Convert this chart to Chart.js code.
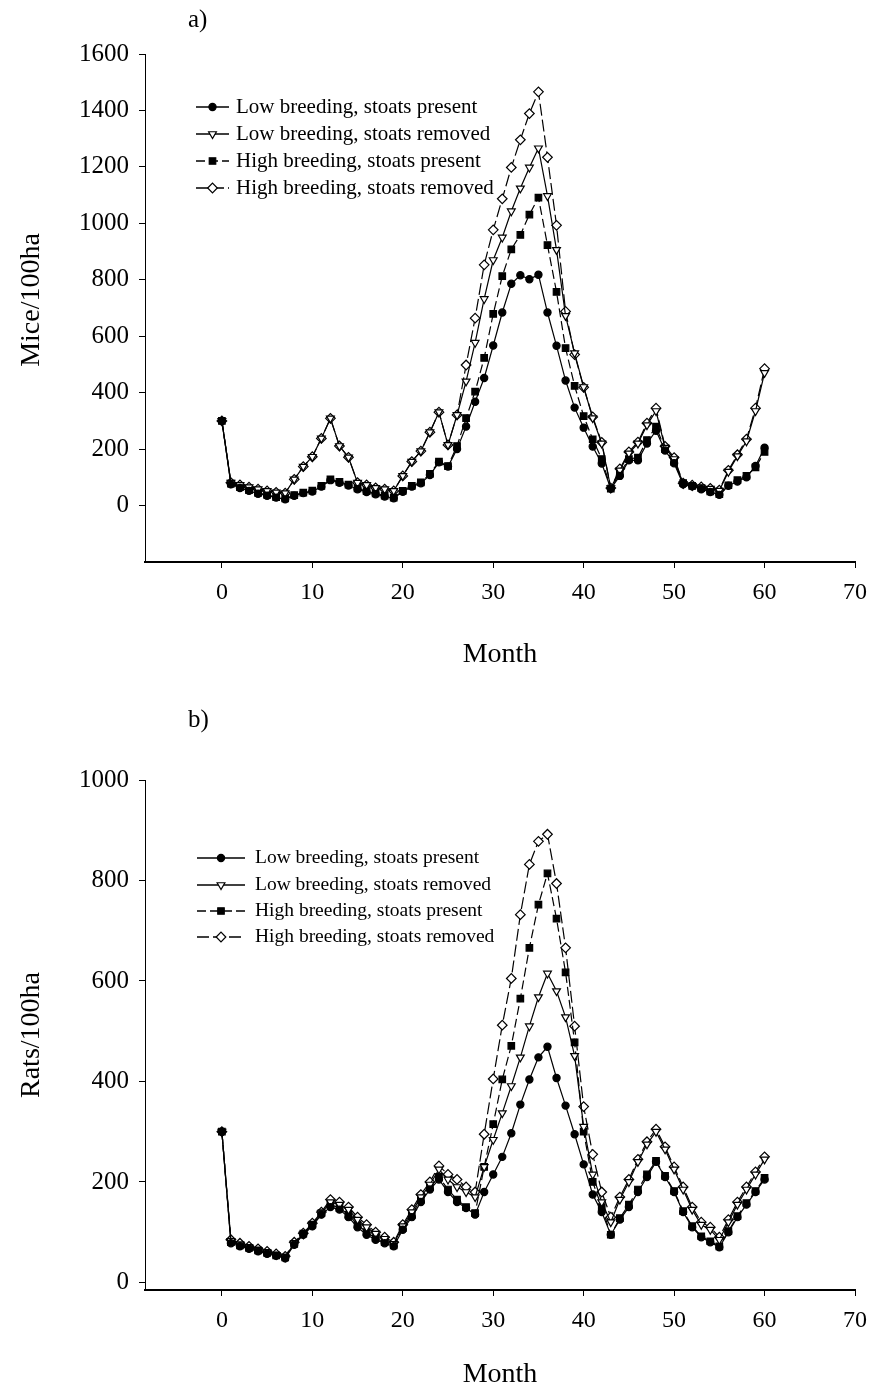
<!DOCTYPE html>
<html>
<head>
<meta charset="utf-8">
<script src="https://cdn.jsdelivr.net/npm/chart.js@4.4.1/dist/chart.umd.min.js"></script>
<style>
  body { margin: 0; background: #fff; }
  canvas { display: block; }
</style>
</head>
<body>
<canvas id="mice" width="877" height="680"></canvas>
<canvas id="rats" width="877" height="712"></canvas>
<script>
const months = [0,1,2,3,4,5,6,7,8,9,10,11,12,13,14,15,16,17,18,19,20,21,22,23,24,25,26,27,28,29,30,
  31,32,33,34,35,36,37,38,39,40,41,42,43,44,45,46,47,48,49,50,51,52,53,54,55,56,57,58,59,60];
const xTicks = [0,10,20,30,40,50,60,70];
const miceTicks = [0,200,400,600,800,1000,1200,1400,1600];
const ratTicks = [0,200,400,600,800,1000];

const seriesNames = [
  "Low breeding, stoats present",
  "Low breeding, stoats removed",
  "High breeding, stoats present",
  "High breeding, stoats removed"
];

// mice per 100ha, read off panel a)
const miceLowPresent = [300,75,62,52,42,35,28,22,35,44,50,67,90,81,71,58,48,40,32,26,49,67,79,108,153,138,
  200,280,368,452,567,684,786,816,802,818,684,566,443,347,276,209,149,60,
  105,160,160,220,265,195,150,75,68,58,48,38,70,85,100,140,205];
const miceLowRemoved = [300,81,73,65,58,52,47,44,93,138,173,238,309,211,171,81,73,63,58,52,105,156,193,260,331,215,321,
  440,577,732,870,950,1043,1124,1198,1266,1097,906,672,540,420,310,220,62,
  125,185,220,285,335,205,165,77,70,64,60,53,120,175,228,335,470];
const miceHighPresent = [300,78,65,55,45,38,30,25,37,46,53,70,93,84,74,61,51,43,35,28,52,70,82,112,156,140,
  211,310,404,523,679,813,908,959,1031,1091,923,757,558,424,317,235,165,60,
  115,165,170,232,280,200,155,80,70,62,50,40,72,90,105,135,190];
const miceHighRemoved = [300,81,73,65,58,52,47,44,93,138,173,238,309,211,171,81,73,63,58,52,105,156,193,260,331,215,321,
  498,664,853,977,1087,1198,1296,1389,1466,1234,993,688,535,419,314,224,62,
  130,190,225,292,345,210,170,79,72,66,61,55,125,180,235,345,485];

// rats per 100ha, read off panel b)
const ratLowPresent = [300,78,72,67,62,57,53,48,75,95,112,135,150,145,130,110,95,85,78,72,
  105,130,160,185,205,180,160,148,135,180,215,250,297,354,404,448,469,407,352,295,
  235,175,140,95,125,150,180,210,240,210,180,140,110,90,80,70,100,130,155,180,205];
const ratLowRemoved = [300,83,76,70,65,60,55,50,78,96,115,138,160,155,145,125,110,97,87,77,
  112,140,170,195,225,205,190,180,170,230,284,337,391,448,510,568,615,580,528,451,
  310,215,160,120,165,200,240,275,300,265,225,185,145,115,105,85,120,155,185,215,245];
const ratHighPresent = [300,80,74,69,64,59,54,50,77,97,115,138,155,148,135,115,100,88,80,74,
  108,135,165,190,210,185,165,150,138,230,315,404,471,565,666,752,814,724,617,478,
  300,200,150,95,128,155,185,215,242,212,182,142,112,92,82,72,102,132,158,182,208];
const ratHighRemoved = [300,85,78,72,67,62,57,52,80,98,118,140,165,160,150,130,115,100,90,80,
  115,145,175,200,232,215,205,190,180,295,405,512,605,732,832,878,892,794,666,510,
  350,255,180,130,170,205,245,280,305,270,230,190,150,120,110,90,125,160,190,220,250];

const FONT = '"Liberation Serif", "Times New Roman", serif';

// marker / line look for the four scenarios
const looks = [
  { pointStyle: 'circle',   fill: '#000', dash: [],      rotation: 0,   radius: 3.6 },
  { pointStyle: 'triangle', fill: '#fff', dash: [],      rotation: 180, radius: 4.5 },
  { pointStyle: 'rect',     fill: '#000', dash: [9, 4],  rotation: 0,   radius: 4.6 },
  { pointStyle: 'rectRot',  fill: '#fff', dash: [12, 4], rotation: 0,   radius: 4.8 }
];

function makeDatasets(seriesList) {
  return seriesList.map((vals, i) => ({
    label: seriesNames[i],
    data: months.map((m, j) => ({ x: m, y: vals[j] })),
    borderColor: '#000',
    borderWidth: 1.2,
    borderDash: looks[i].dash,
    pointStyle: looks[i].pointStyle,
    pointRotation: looks[i].rotation,
    pointRadius: looks[i].radius,
    pointBackgroundColor: looks[i].fill,
    pointBorderColor: '#000',
    pointBorderWidth: 1.2,
    fill: false,
    tension: 0
  }));
}

// axis titles, panel letter and the in-plot legend
const decor = {
  id: 'decor',
  afterDraw(chart, args, o) {
    const ctx = chart.ctx;
    ctx.save();
    ctx.fillStyle = '#000';
    ctx.textBaseline = 'middle';
    ctx.textAlign = 'left';
    ctx.font = '25px ' + FONT;
    ctx.fillText(o.panel, o.panelX, o.panelY);

    ctx.textAlign = 'center';
    ctx.font = '28px ' + FONT;
    ctx.fillText('Month', o.xTitleX, o.xTitleY);
    ctx.save();
    ctx.translate(o.yTitleX, o.yTitleY);
    ctx.rotate(-Math.PI / 2);
    ctx.fillText(o.yTitle, 0, 0);
    ctx.restore();

    // legend
    const lg = o.legend;
    chart.data.datasets.forEach((ds, i) => {
      const y = lg.ys[i];
      ctx.save();
      ctx.strokeStyle = '#000';
      ctx.lineWidth = 1.3;
      ctx.setLineDash(ds.borderDash || []);
      ctx.beginPath();
      ctx.moveTo(lg.x1, y);
      ctx.lineTo(lg.x2, y);
      ctx.stroke();
      ctx.setLineDash([]);
      ctx.fillStyle = ds.pointBackgroundColor;
      ctx.lineWidth = 1.2;
      Chart.helpers.drawPoint(ctx, {
        pointStyle: ds.pointStyle,
        rotation: ds.pointRotation,
        radius: ds.pointRadius,
        borderWidth: 1.2
      }, (lg.x1 + lg.x2) / 2, y);
      ctx.restore();
      ctx.fillStyle = '#000';
      ctx.textAlign = 'left';
      ctx.font = lg.size + 'px ' + FONT;
      ctx.fillText(ds.label, lg.textX, y);
    });
    ctx.restore();
  }
};

function makeChart(id, seriesList, yMin, yMax, yTicks, pad, xHeight, deco) {
  return new Chart(document.getElementById(id).getContext('2d'), {
    type: 'line',
    data: { datasets: makeDatasets(seriesList) },
    options: {
      responsive: false,
      animation: false,
      layout: { padding: pad },
      plugins: {
        legend: { display: false },
        tooltip: { enabled: false },
        decor: deco
      },
      scales: {
        x: {
          type: 'linear',
          min: -8.5,
          max: 70,
          afterBuildTicks: s => { s.ticks = xTicks.map(v => ({ value: v })); },
          afterFit: s => { s.height = xHeight; },
          grid: { display: true, drawOnChartArea: false, tickLength: 6, color: '#000' },
          border: { display: true, color: '#000', width: 2 },
          ticks: { color: '#000', padding: 10, font: { family: FONT, size: 24 }, callback: v => String(v) }
        },
        y: {
          type: 'linear',
          min: yMin,
          max: yMax,
          afterBuildTicks: s => { s.ticks = yTicks.map(v => ({ value: v })); },
          afterFit: s => { s.width = 145; },
          grid: { display: true, drawOnChartArea: false, tickLength: 6, color: '#000' },
          border: { display: true, color: '#000', width: 1 },
          ticks: { color: '#000', padding: 10, font: { family: FONT, size: 25 }, callback: v => String(v) }
        }
      }
    },
    plugins: [decor]
  });
}

makeChart('mice', [miceLowPresent, miceLowRemoved, miceHighPresent, miceHighRemoved],
  -200, 1600, miceTicks, { left: 0, right: 17, top: 54, bottom: 0 }, 118, {
    panel: 'a)', panelX: 188, panelY: 20,
    xTitleX: 500, xTitleY: 655,
    yTitle: 'Mice/100ha', yTitleX: 32, yTitleY: 300,
    legend: { x1: 196, x2: 229, textX: 236, size: 21, ys: [107, 134, 161, 188] }
  });

makeChart('rats', [ratLowPresent, ratLowRemoved, ratHighPresent, ratHighRemoved],
  -15, 1000, ratTicks, { left: 0, right: 17, top: 100, bottom: 0 }, 102, {
    panel: 'b)', panelX: 188, panelY: 40,
    xTitleX: 500, xTitleY: 695,
    yTitle: 'Rats/100ha', yTitleX: 32, yTitleY: 355,
    legend: { x1: 197, x2: 245, textX: 255, size: 19.5, ys: [178, 205, 231, 257] }
  });
</script>
</body>
</html>
